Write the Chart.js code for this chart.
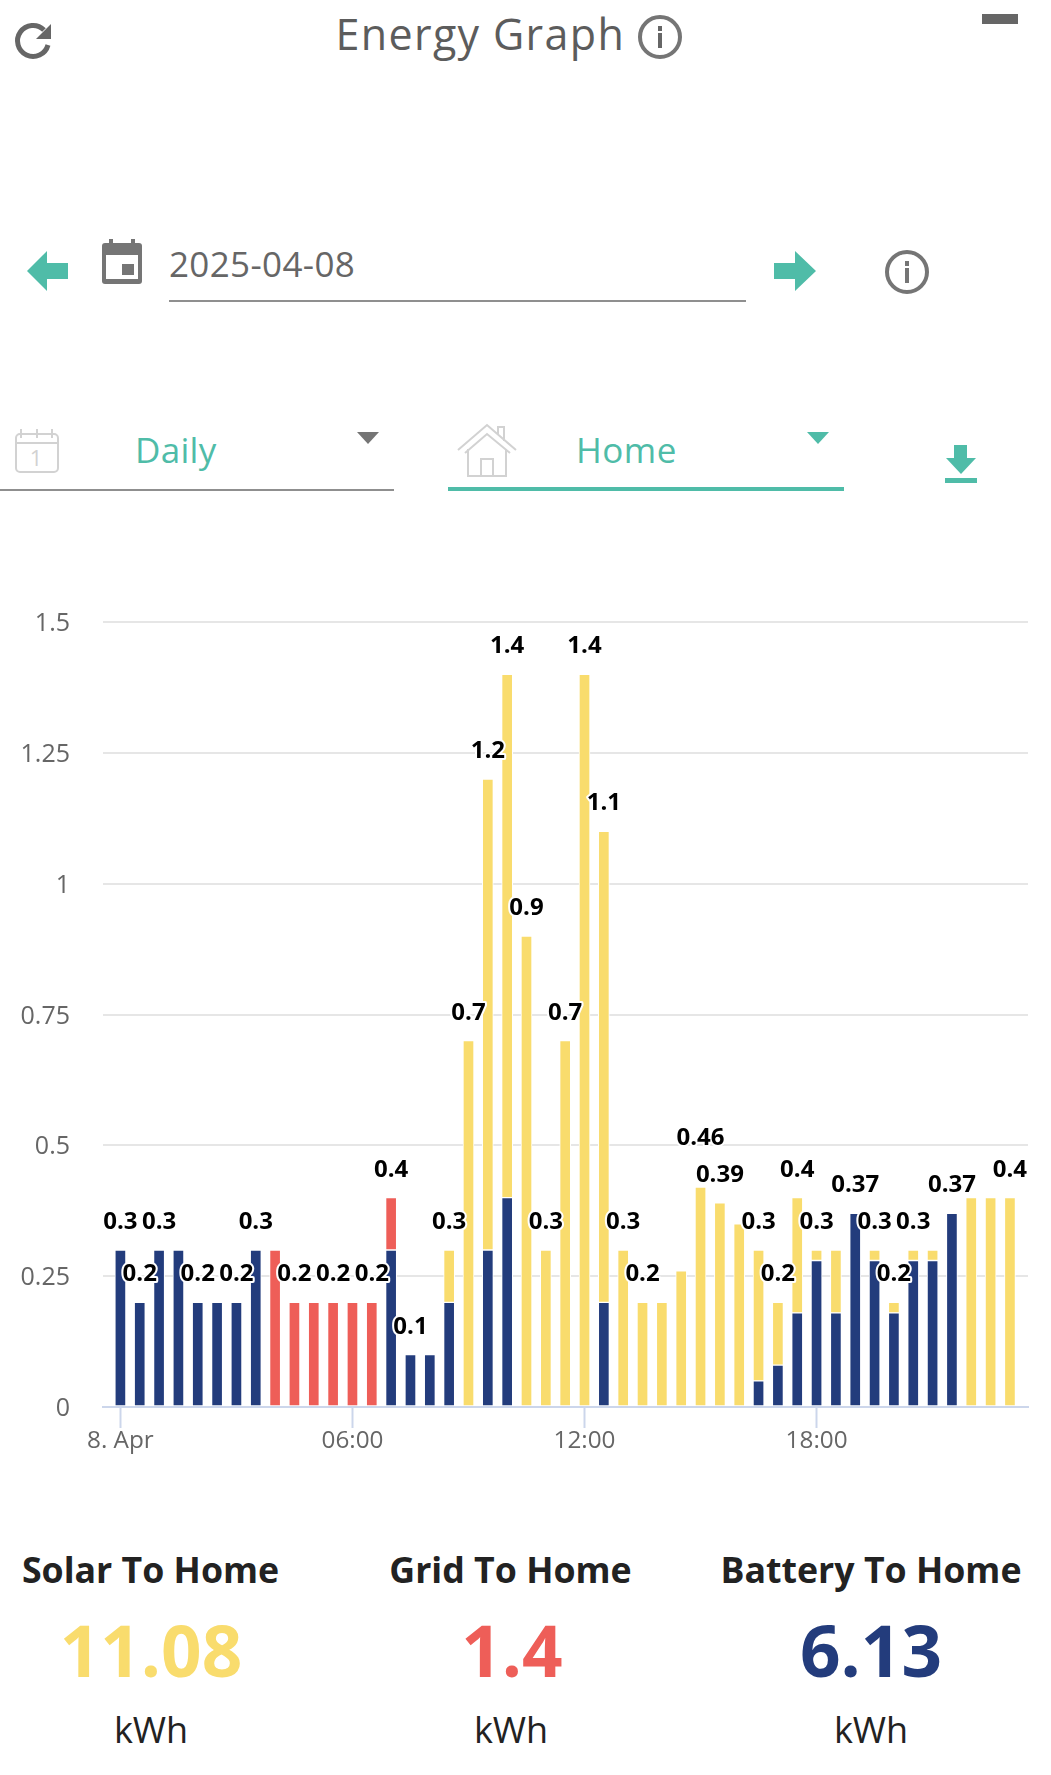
<!DOCTYPE html>
<html>
<head>
<meta charset="utf-8">
<title>Energy Graph</title>
<script src="https://cdn.jsdelivr.net/npm/chart.js@4/dist/chart.umd.min.js"></script>
<style>
  html, body { margin: 0; padding: 0; background: #fff; }
  body { position: relative; width: 1051px; height: 1775px; overflow: hidden; font-family: "Open Sans", sans-serif; }
  .txt { position: absolute; line-height: 1; white-space: nowrap; }
  .mid { transform: translateX(-50%); }
  #overlay { position: absolute; left: 0; top: 0; }
  #energyChart { position: absolute; left: 0; top: 560px; }
</style>
</head>
<body>
<svg id="overlay" width="1051" height="500" viewBox="0 0 1051 500">
  <!-- refresh -->
  <path d="M44 30 A15.5 15.5 0 1 0 48 45" fill="none" stroke="#666" stroke-width="5"/>
  <polygon points="51,24 51,39 36,39" fill="#666"/>
  <!-- title info -->
  <circle cx="660" cy="37" r="20" fill="none" stroke="#757575" stroke-width="4"/>
  <rect x="658" y="26" width="4" height="5" fill="#666"/>
  <rect x="658" y="33" width="4" height="15" fill="#666"/>
  <!-- minimize -->
  <rect x="982" y="14" width="36" height="10" fill="#666"/>
  <!-- date row -->
  <polygon points="27,271 47,251 47,263 68,263 68,279 47,279 47,291" fill="#4fbca8"/>
  <rect x="102" y="243" width="40" height="41" rx="3" fill="#757575"/>
  <rect x="109" y="239" width="4" height="6" fill="#757575"/>
  <rect x="131" y="239" width="4" height="6" fill="#757575"/>
  <rect x="106" y="255" width="32" height="24" fill="#fff"/>
  <rect x="122" y="264" width="12" height="11" fill="#757575"/>
  <rect x="169" y="300" width="577" height="2" fill="#8f8f8f"/>
  <polygon points="816,271 795,251 795,263 774,263 774,279 795,279 795,291" fill="#4fbca8"/>
  <circle cx="907" cy="272" r="20" fill="none" stroke="#757575" stroke-width="4"/>
  <rect x="905" y="261" width="4" height="5" fill="#757575"/>
  <rect x="905" y="268" width="4" height="15" fill="#757575"/>
  <!-- daily select -->
  <rect x="16" y="434" width="42" height="38" rx="4" fill="none" stroke="#d2d2d2" stroke-width="2"/>
  <path d="M16 443 H58 M21 429 V438 M37 429 V438 M52 429 V438" fill="none" stroke="#d2d2d2" stroke-width="2"/>
  <text x="36" y="466" font-size="22" fill="#d2d2d2" text-anchor="middle">1</text>
  <polygon points="357,432 379,432 368,444" fill="#757575"/>
  <rect x="0" y="489" width="394" height="2" fill="#8f8f8f"/>
  <!-- home select -->
  <path d="M458 450 L487 425 L516 450 M465 453 L487 434 L510 453 M498 435 V427 H504 V441 M468 449 V476 H506 V449 M481 476 V459 H493 V476" fill="none" stroke="#d2d2d2" stroke-width="2"/>
  <polygon points="807,432 829,432 818,444" fill="#4fbca8"/>
  <rect x="448" y="487" width="396" height="4" fill="#4fbca8"/>
  <!-- download -->
  <polygon points="954,445 967,445 967,458 976,458 961,474 946,458 954,458" fill="#4fbca8"/>
  <rect x="945" y="478" width="32" height="5" fill="#4fbca8"/>
</svg>

<div class="txt" style="left:335.5px; top:12px; font-size:43px; letter-spacing:1.35px; color:#5c5c5c;">Energy Graph</div>
<div class="txt" style="left:169px; top:246px; font-size:35px; letter-spacing:.35px; color:#666;">2025-04-08</div>
<div class="txt" style="left:135px; top:432px; font-size:35px; letter-spacing:.3px; color:#4fbca8;">Daily</div>
<div class="txt" style="left:576px; top:432px; font-size:35px; letter-spacing:.5px; color:#4fbca8;">Home</div>

<canvas id="energyChart" width="1051" height="930"></canvas>

<div class="txt mid" style="left:150.5px; top:1552px; font-size:35.7px; font-weight:700; color:#222;">Solar To Home</div>
<div class="txt mid" style="left:510.5px; top:1552px; font-size:35.7px; font-weight:700; color:#222;">Grid To Home</div>
<div class="txt mid" style="left:871px; top:1552px; font-size:35.7px; font-weight:700; color:#222;">Battery To Home</div>
<div class="txt mid" style="left:151px; top:1614px; font-size:71px; font-weight:700; color:#f9dc6d;">11.08</div>
<div class="txt mid" style="left:512px; top:1614px; font-size:71px; font-weight:700; color:#ee5e58;">1.4</div>
<div class="txt mid" style="left:871px; top:1614px; font-size:71px; font-weight:700; color:#233c7c;">6.13</div>
<div class="txt mid" style="left:151px; top:1712px; font-size:36px; color:#222;">kWh</div>
<div class="txt mid" style="left:511px; top:1712px; font-size:36px; color:#222;">kWh</div>
<div class="txt mid" style="left:871px; top:1712px; font-size:36px; color:#222;">kWh</div>

<script>
// half hour slots, minutes after midnight (the last one shown is 23:00)
const slots = [0, 30, 60, 90, 120, 150, 180, 210, 240, 270, 300, 330, 360, 390, 420, 450,
  480, 510, 540, 570, 600, 630, 660, 690, 720, 750, 780, 810, 840, 870, 900, 930,
  960, 990, 1020, 1050, 1080, 1110, 1140, 1170, 1200, 1230, 1260, 1290, 1320, 1350, 1380];

const batteryToHome = [0.3, 0.2, 0.3, 0.3, 0.2, 0.2, 0.2, 0.3, null, null, null, null, null, null, 0.3, 0.1,
  0.1, 0.2, null, 0.3, 0.4, null, null, null, null, 0.2, null, null, null, null, null, null,
  null, 0.05, 0.08, 0.18, 0.28, 0.18, 0.37, 0.28, 0.18, 0.28, 0.28, 0.37, null, null, null];

const solarToHome = [null, null, null, null, null, null, null, null, null, null, null, null, null, null, null, null,
  null, 0.1, 0.7, 0.9, 1.0, 0.9, 0.3, 0.7, 1.4, 0.9, 0.3, 0.2, 0.2, 0.26, 0.42, 0.39,
  0.35, 0.25, 0.12, 0.22, 0.02, 0.12, null, 0.02, 0.02, 0.02, 0.02, null, 0.4, 0.4, 0.4];

const gridToHome = [null, null, null, null, null, null, null, null, 0.3, 0.2, 0.2, 0.2, 0.2, 0.2, 0.1, null,
  null, null, null, null, null, null, null, null, null, null, null, null, null, null, null, null,
  null, null, null, null, null, null, null, null, null, null, null, null, null, null, null];

// totals printed over the bars, null where the label was dropped for lack of room
const totalLabels = [0.3, 0.2, 0.3, null, 0.2, null, 0.2, 0.3, null, 0.2, null, 0.2, null, 0.2, 0.4, 0.1,
  null, 0.3, 0.7, 1.2, 1.4, 0.9, 0.3, 0.7, 1.4, 1.1, 0.3, 0.2, null, null, 0.46, 0.39,
  null, 0.3, 0.2, 0.4, 0.3, null, 0.37, 0.3, 0.2, 0.3, null, 0.37, null, null, 0.4];

const xTicks = [0, 360, 720, 1080];
const xTickLabels = ["8. Apr", "06:00", "12:00", "18:00"];
const yTicks = [0, 0.25, 0.5, 0.75, 1, 1.25, 1.5];

function series(values, color) {
  return {
    data: slots.map((m, i) => ({ x: m, y: values[i] })),
    backgroundColor: color,
    borderColor: "#fff",
    borderWidth: 1,
    borderSkipped: false,
    barThickness: 11
  };
}

const totalsPlugin = {
  id: "totals",
  afterDatasetsDraw(chart) {
    const ctx = chart.ctx;
    ctx.save();
    ctx.font = "700 24px 'Open Sans'";
    ctx.textAlign = "center";
    ctx.textBaseline = "middle";
    ctx.lineJoin = "round";
    ctx.lineWidth = 4;
    ctx.strokeStyle = "#fff";
    ctx.fillStyle = "#000";
    totalLabels.forEach((v, i) => {
      if (v === null) return;
      const x = chart.scales.x.getPixelForValue(slots[i]);
      const y = chart.scales.y.getPixelForValue(v) - 28;
      ctx.strokeText(String(v), x, y);
      ctx.fillText(String(v), x, y);
    });
    ctx.restore();
  }
};

new Chart(document.getElementById("energyChart"), {
  type: "bar",
  data: {
    datasets: [
      series(batteryToHome, "#233c7c"),
      series(solarToHome, "#f9dc6d"),
      series(gridToHome, "#ee5e58")
    ]
  },
  plugins: [totalsPlugin],
  options: {
    responsive: false,
    animation: false,
    layout: { padding: { top: 62, right: 23, left: 0, bottom: 0 } },
    plugins: { legend: { display: false }, tooltip: { enabled: false } },
    scales: {
      x: {
        type: "linear",
        offset: false,
        stacked: true,
        min: -27,
        max: 1408,
        afterBuildTicks(scale) {
          scale.ticks = xTicks.map(v => ({ value: v }));
        },
        afterFit(scale) {
          scale.height = 83;
        },
        grid: { offset: false, drawOnChartArea: false, tickLength: 21, tickColor: "#ccd6eb", tickWidth: 2 },
        border: { color: "#ccd6eb", width: 2, z: 1 },
        ticks: {
          autoSkip: false,
          maxRotation: 0,
          padding: -2,
          color: "#666",
          font: { family: "'Open Sans'", size: 24.3 },
          callback: v => xTickLabels[xTicks.indexOf(v)]
        }
      },
      y: {
        stacked: true,
        min: 0,
        max: 1.5,
        afterBuildTicks(scale) {
          scale.ticks = yTicks.map(v => ({ value: v }));
        },
        afterFit(scale) {
          scale.width = 103;
        },
        grid: { color: "#e6e6e6", lineWidth: 2, drawTicks: false },
        border: { display: false },
        ticks: {
          padding: 33,
          labelOffset: 2,
          color: "#666",
          font: { family: "'Open Sans'", size: 25 },
          callback: v => String(v)
        }
      }
    }
  }
});
</script>
</body>
</html>
